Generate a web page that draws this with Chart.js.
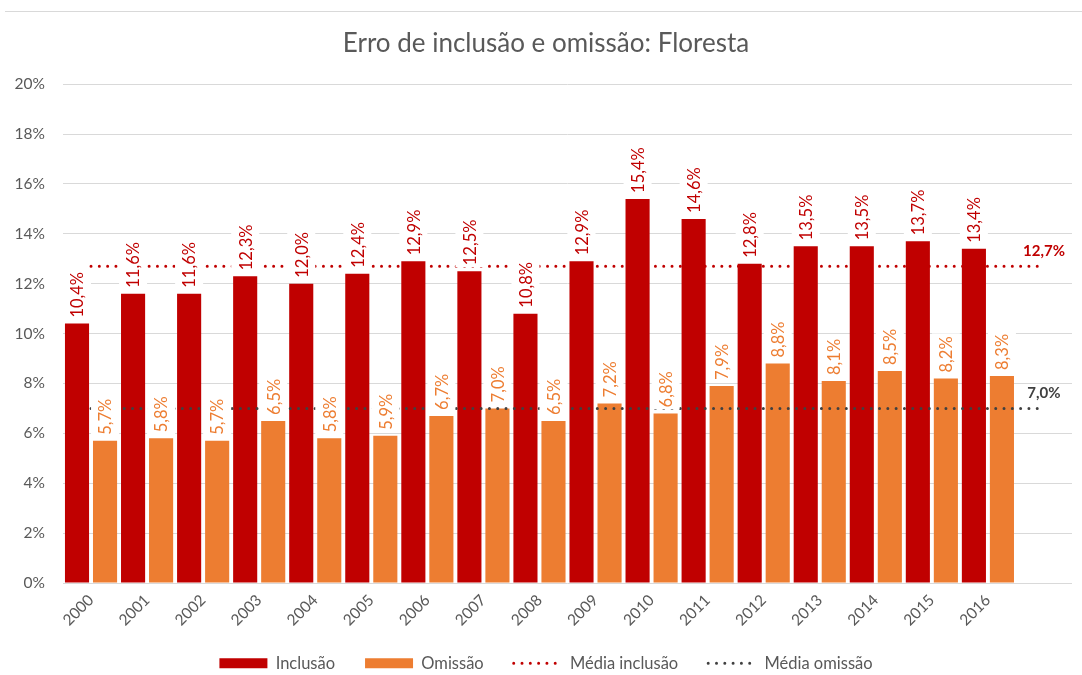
<!DOCTYPE html>
<html>
<head>
<meta charset="utf-8">
<script src="https://cdn.jsdelivr.net/npm/chart.js"></script>
<style>
  html, body { margin: 0; padding: 0; background: #fff; }
  #wrap { position: relative; width: 1082px; height: 675px; }
  #topline { position: absolute; left: 5px; right: 0; top: 11px; border-top: 1px solid #d9d9d9; }
</style>
</head>
<body>
<div id="wrap">
  <div id="topline"></div>
  <canvas id="erroChart" width="1082" height="675"></canvas>
</div>
<script>
const anos = ['2000','2001','2002','2003','2004','2005','2006','2007','2008',
              '2009','2010','2011','2012','2013','2014','2015','2016',''];
const inclusao = [10.4, 11.6, 11.6, 12.3, 12.0, 12.4, 12.9, 12.5, 10.8,
                  12.9, 15.4, 14.6, 12.8, 13.5, 13.5, 13.7, 13.4];
const omissao = [5.7, 5.8, 5.7, 6.5, 5.8, 5.9, 6.7, 7.0, 6.5,
                 7.2, 6.8, 7.9, 8.8, 8.1, 8.5, 8.2, 8.3];
const mediaInclusao = 12.7;
const mediaOmissao = 7.0;

const vermelho = '#C00000';
const laranja = '#ED7D31';
const cinza = '#404040';
const textoCinza = '#595959';
const fonte = 'Lato, "Open Sans", sans-serif';

const fmt = v => v.toFixed(1).replace('.', ',') + '%';

// labels on the bars (rotated, white box behind) + average value at the end of the lines
const rotulos = {
  id: 'rotulos',
  afterDatasetsDraw(chart) {
    const ctx = chart.ctx;
    ctx.save();
    ctx.font = '16.5px ' + fonte;
    ctx.textBaseline = 'middle';
    ctx.textAlign = 'left';
    chart.data.datasets.forEach((ds, i) => {
      if (ds.type !== 'bar') return;
      chart.getDatasetMeta(i).data.forEach((bar, j) => {
        const txt = fmt(ds.data[j]);
        const w = ctx.measureText(txt).width;
        const y0 = bar.y - 6;
        ctx.fillStyle = '#fff';
        ctx.fillRect(bar.x - 14, y0 - w - 3, 28, w + 5);
        ctx.save();
        ctx.translate(bar.x, y0);
        ctx.rotate(-Math.PI / 2);
        ctx.fillStyle = ds.backgroundColor;
        ctx.fillText(txt, 0, 1);
        ctx.restore();
      });
    });
    ctx.font = 'bold 15px ' + fonte;
    ctx.textAlign = 'center';
    chart.data.datasets.forEach((ds, i) => {
      if (ds.type !== 'line') return;
      const pts = chart.getDatasetMeta(i).data;
      const p = pts[pts.length - 1];
      ctx.fillStyle = ds.borderColor;
      ctx.fillText(fmt(ds.data[ds.data.length - 1]), p.x, p.y - 15);
    });
    ctx.restore();
  }
};

// fixed axis boxes are tight, so let tick labels draw past them
const semCorte = scale => { scale._computeLabelArea = () => undefined; };

new Chart(document.getElementById('erroChart').getContext('2d'), {
  data: {
    labels: anos,
    datasets: [
      {
        type: 'bar',
        label: 'Inclusão',
        data: inclusao,
        backgroundColor: vermelho,
        order: 2,
        categoryPercentage: 1.0,
        barPercentage: 0.86
      },
      {
        type: 'bar',
        label: 'Omissão',
        data: omissao,
        backgroundColor: laranja,
        order: 2,
        categoryPercentage: 1.0,
        barPercentage: 0.86
      },
      {
        type: 'line',
        label: 'Média inclusão',
        data: anos.map(() => mediaInclusao),
        borderColor: vermelho,
        borderWidth: 3,
        borderDash: [0, 8.3],
        borderCapStyle: 'round',
        pointRadius: 0,
        fill: false,
        order: 1
      },
      {
        type: 'line',
        label: 'Média omissão',
        data: anos.map(() => mediaOmissao),
        borderColor: cinza,
        borderWidth: 3,
        borderDash: [0, 8.3],
        borderCapStyle: 'round',
        pointRadius: 0,
        fill: false,
        order: 1
      }
    ]
  },
  options: {
    responsive: false,
    animation: false,
    layout: { padding: { left: 20, right: 10, top: 0, bottom: 0 } },
    plugins: {
      tooltip: { enabled: false },
      title: {
        display: true,
        text: 'Erro de inclusão e omissão: Floresta',
        color: textoCinza,
        font: { family: fonte, size: 26, weight: 'normal', lineHeight: 1.2 },
        padding: { top: 28, bottom: 25 }
      },
      legend: {
        position: 'bottom',
        maxHeight: 50,
        labels: {
          usePointStyle: true,
          pointStyleWidth: 48,
          boxHeight: 10,
          padding: 30,
          color: textoCinza,
          font: { family: fonte, size: 16.5 },
          generateLabels(chart) {
            return chart.data.datasets.map((ds, i) => {
              const linha = ds.type === 'line';
              return {
                text: ds.label,
                fillStyle: linha ? 'rgba(0,0,0,0)' : ds.backgroundColor,
                strokeStyle: linha ? ds.borderColor : ds.backgroundColor,
                lineWidth: linha ? 3 : 0,
                lineDash: linha ? [0, 8.3] : [],
                lineCap: 'round',
                pointStyle: linha ? 'line' : 'rect',
                fontColor: textoCinza,
                hidden: false,
                datasetIndex: i
              };
            });
          }
        }
      }
    },
    scales: {
      x: {
        grid: { display: false },
        border: { display: false },
        ticks: {
          color: textoCinza,
          font: { family: fonte, size: 15.5 },
          minRotation: 45,
          maxRotation: 45,
          autoSkip: false,
          padding: 0
        },
        afterFit(scale) {
          scale.height = 42;
          semCorte(scale);
        }
      },
      y: {
        min: 0,
        max: 20,
        grid: { color: '#D9D9D9', drawTicks: false },
        border: { display: false },
        ticks: {
          stepSize: 2,
          color: textoCinza,
          font: { family: fonte, size: 15.5 },
          padding: 18,
          callback: v => v + '%'
        },
        afterFit(scale) {
          scale.width = 43;
          semCorte(scale);
        }
      }
    }
  },
  plugins: [rotulos]
});
</script>
</body>
</html>
